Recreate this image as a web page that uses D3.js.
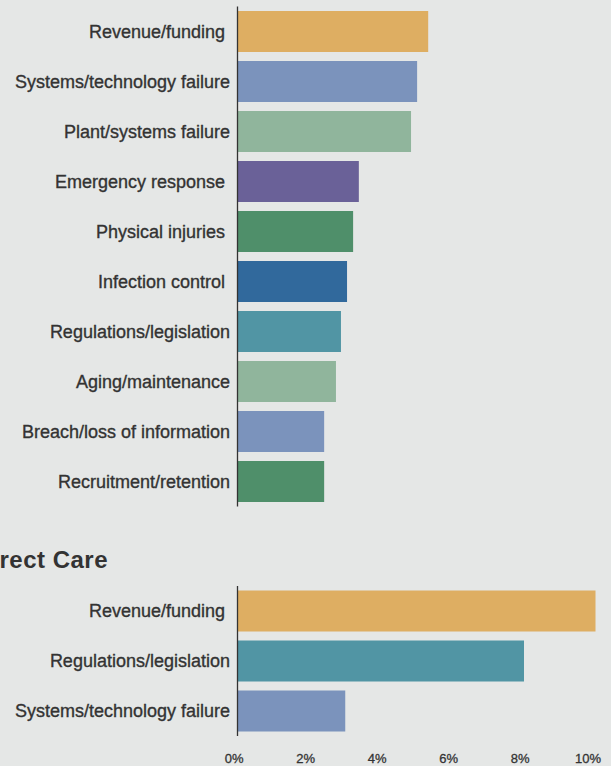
<!DOCTYPE html>
<html>
<head>
<meta charset="utf-8">
<script src="https://cdn.jsdelivr.net/npm/d3@7"></script>
<style>
  html, body { margin: 0; padding: 0; background: #e5e7e6; }
  svg { display: block; }
  .lbl { font-family: "Liberation Sans", Arial, sans-serif; font-size: 18px; fill: #333; stroke: #333; stroke-width: 0.35; white-space: pre; }
  .tick { font-family: "Liberation Sans", Arial, sans-serif; font-size: 13px; fill: #333; stroke: #333; stroke-width: 0.3; }
  .ttl { font-family: "Liberation Sans", Arial, sans-serif; font-size: 24px; font-weight: bold; fill: #333; letter-spacing: 0.5px; }
</style>
</head>
<body>
<script>
// Top panel: risk categories and their shares (%)
const topCategories = [
  "Revenue/funding ",
  "Systems/technology failure",
  "Plant/systems failure",
  "Emergency response ",
  "Physical injuries ",
  "Infection control ",
  "Regulations/legislation",
  "Aging/maintenance",
  "Breach/loss of information",
  "Recruitment/retention"
];
const topValues = [5.32, 5.01, 4.84, 3.38, 3.22, 3.05, 2.88, 2.74, 2.41, 2.41];
const topColors = ["#deae62", "#7b93bc", "#90b59c", "#6a6198", "#4f8f6a",
                   "#31699c", "#5195a4", "#90b59c", "#7b93bc", "#4f8f6a"];

// Bottom panel: Direct Care
const directTitle = "Direct Care";
const directCategories = ["Revenue/funding ", "Regulations/legislation", "Systems/technology failure"];
const directValues = [10.0, 8.0, 3.0];
const directColors = ["#deae62", "#5195a4", "#7b93bc"];

const tickValues = [0, 2, 4, 6, 8, 10];
const tickLabels = ["0%", "2%", "4%", "6%", "8%", "10%"];

const W = 611, H = 766;
const svg = d3.select("body").append("svg").attr("width", W).attr("height", H);

const x = d3.scaleLinear().domain([0, 10]).range([238, 595.5]);
const axisX = 237.5;
const labelX = 230;

function panel(cats, vals, cols, y0, y1) {
  const y = d3.scaleBand().domain(cats).range([y0, y1])
    .paddingInner(0.18).paddingOuter(0.09);
  const g = svg.append("g");
  g.selectAll("rect").data(cats).join("rect")
    .attr("x", x(0))
    .attr("y", d => y(d))
    .attr("width", (d, i) => x(vals[i]) - x(0))
    .attr("height", y.bandwidth())
    .attr("fill", (d, i) => cols[i]);
  g.selectAll("text").data(cats).join("text")
    .attr("class", "lbl")
    .attr("xml:space", "preserve")
    .attr("x", labelX)
    .attr("y", d => y(d) + y.bandwidth() / 2 + 6)
    .attr("text-anchor", "end")
    .text(d => d);
  g.append("line")
    .attr("x1", axisX).attr("x2", axisX)
    .attr("y1", y0).attr("y2", y1)
    .attr("stroke", "#333").attr("stroke-width", 1.3);
}

panel(topCategories, topValues, topColors, 6.5, 506.5);

svg.append("text").attr("class", "ttl")
  .attr("x", 108).attr("y", 568)
  .attr("text-anchor", "end")
  .text(directTitle);

panel(directCategories, directValues, directColors, 586, 736);

// percentage axis under the bottom panel
svg.append("g").selectAll("text").data(tickValues).join("text")
  .attr("class", "tick")
  .attr("x", d => x(d) + 5.5)
  .attr("y", 763)
  .attr("text-anchor", "end")
  .text((d, i) => tickLabels[i]);
</script>
</body>
</html>
